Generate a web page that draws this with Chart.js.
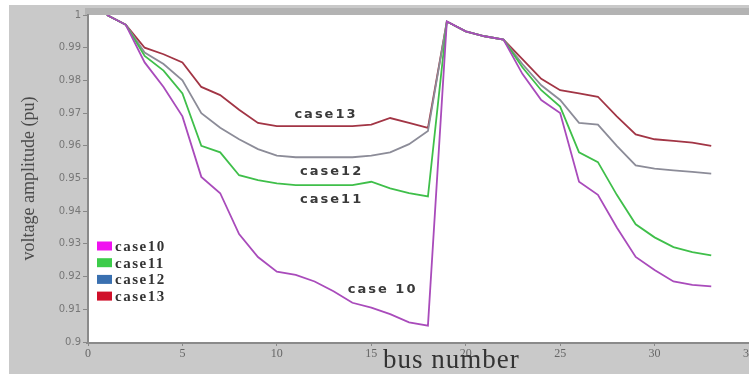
<!DOCTYPE html>
<html>
<head>
<meta charset="utf-8">
<script src="https://cdn.jsdelivr.net/npm/chart.js@4.4.1/dist/chart.umd.min.js"></script>
<style>
  html, body { margin: 0; padding: 0; background: #fff; }
  #wrap { width: 749px; height: 374px; position: relative; }
</style>
</head>
<body>
<div id="wrap"><canvas id="voltChart"></canvas></div>
<script>
'use strict';

// ─── DATA ────────────────────────────────────────────────────

const BUS = [1, 2, 3, 4, 5, 6, 7, 8, 9, 10, 11, 12, 13, 14, 15, 16, 17,
             18, 19, 20, 21, 22, 23, 24, 25, 26, 27, 28, 29, 30, 31, 32, 33];

const CASE10 = [1.000, 0.997, 0.9855, 0.978, 0.969, 0.9505, 0.9455, 0.933, 0.926, 0.9215, 0.9205,
                0.9185, 0.9155, 0.912, 0.9105, 0.9085, 0.906, 0.905, 0.998, 0.995, 0.9935, 0.9925,
                0.982, 0.974, 0.970, 0.949, 0.945, 0.935, 0.926, 0.922, 0.9185, 0.9175, 0.917];

const CASE11 = [1.000, 0.997, 0.9875, 0.983, 0.976, 0.9600, 0.958, 0.951, 0.9495, 0.9485, 0.948,
                0.948, 0.948, 0.948, 0.949, 0.947, 0.9455, 0.9445, 0.998, 0.995, 0.9935, 0.9925,
                0.984, 0.977, 0.972, 0.958, 0.955, 0.945, 0.936, 0.932, 0.929, 0.9275, 0.9265];

const CASE12 = [1.000, 0.997, 0.9885, 0.985, 0.980, 0.970, 0.9655, 0.962, 0.959, 0.957, 0.9565,
                0.9565, 0.9565, 0.9565, 0.957, 0.958, 0.9605, 0.9645, 0.998, 0.995, 0.9935, 0.9925,
                0.985, 0.9785, 0.974, 0.967, 0.9665, 0.960, 0.954, 0.953, 0.9525, 0.952, 0.9515];

const CASE13 = [1.000, 0.997, 0.990, 0.988, 0.9855, 0.978, 0.9755, 0.971, 0.967, 0.966, 0.966,
                0.966, 0.966, 0.966, 0.9665, 0.9685, 0.967, 0.9655, 0.998, 0.995, 0.9935, 0.9925,
                0.9865, 0.9805, 0.977, 0.976, 0.975, 0.969, 0.9635, 0.962, 0.9615, 0.961, 0.960];

const SERIES_NAMES  = ['case10', 'case11', 'case12', 'case13'];
const LINE_COLORS   = ['#a94bbb', '#3fbf4a', '#8c8c98', '#a23545'];
const LEGEND_COLORS = ['#f010f0', '#3ccc4a', '#3a70b0', '#d0102a'];

// in-plot labels: [text, bus, voltage]
const CURVE_LABELS = [
  ['case13', 12.6, 0.9695],
  ['case12', 12.9, 0.952],
  ['case11', 12.9, 0.9435],
  ['case 10', 15.6, 0.916],
];

// ─── HELPERS ─────────────────────────────────────────────────

function pairs(values) {
  return values.map((v, i) => ({ x: BUS[i], y: v }));
}

const frame = {
  id: 'frame',
  beforeDraw(chart) {
    const { ctx, chartArea: a, width, height } = chart;
    ctx.save();
    ctx.fillStyle = '#ffffff';
    ctx.fillRect(0, 0, width, height);
    ctx.fillStyle = '#c9c9c9';
    ctx.fillRect(9, 5, width - 9, height - 5);
    ctx.fillStyle = '#b3b3b3';
    ctx.fillRect(a.left - 3, 8, width - a.left + 3, a.top - 8);
    ctx.fillStyle = '#ffffff';
    ctx.fillRect(a.left, a.top, a.right - a.left, a.bottom - a.top);
    ctx.restore();
  },
  afterDraw(chart) {
    const { ctx, chartArea: a, scales } = chart;
    ctx.save();
    // bottom axis line
    ctx.strokeStyle = '#8a8a8a';
    ctx.lineWidth = 2;
    ctx.beginPath();
    ctx.moveTo(a.left - 2, a.bottom + 1);
    ctx.lineTo(a.right, a.bottom + 1);
    ctx.stroke();

    // curve labels
    ctx.fillStyle = '#3a3a3a';
    ctx.font = 'bold 13px "DejaVu Sans", sans-serif';
    ctx.letterSpacing = '2px';
    ctx.textAlign = 'center';
    ctx.textBaseline = 'middle';
    CURVE_LABELS.forEach(([txt, bx, v]) => {
      ctx.fillText(txt, scales.x.getPixelForValue(bx), scales.y.getPixelForValue(v));
    });

    // legend box
    ctx.font = 'bold 15px "Liberation Serif", serif';
    ctx.letterSpacing = '1.5px';
    ctx.textAlign = 'left';
    SERIES_NAMES.forEach((name, i) => {
      const cy = 246 + i * 16.7;
      ctx.fillStyle = LEGEND_COLORS[i];
      ctx.fillRect(a.left + 9, cy - 4.5, 15, 9);
      ctx.fillStyle = '#333';
      ctx.fillText(name, a.left + 27, cy + 1);
    });

    // x title
    ctx.font = '27px "Liberation Serif", serif';
    ctx.letterSpacing = '1px';
    ctx.fillStyle = '#333';
    ctx.textAlign = 'left';
    ctx.textBaseline = 'alphabetic';
    ctx.fillText('bus number', 383, 368);
    ctx.restore();
  }
};

// ─── CHART ───────────────────────────────────────────────────

const datasets = [CASE10, CASE11, CASE12, CASE13].map((vals, i) => ({
  label: SERIES_NAMES[i],
  data: pairs(vals),
  borderColor: LINE_COLORS[i],
  backgroundColor: LINE_COLORS[i],
  borderWidth: 1.8,
  pointRadius: 0,
  tension: 0,
  fill: false
}));

new Chart(document.getElementById('voltChart'), {
  type: 'line',
  data: { datasets },
  options: {
    responsive: true,
    maintainAspectRatio: false,
    animation: false,
    layout: { padding: { top: 15, left: 0, right: -4, bottom: 0 } },
    plugins: {
      legend: { display: false },
      tooltip: { enabled: false }
    },
    scales: {
      x: {
        type: 'linear',
        min: 0,
        max: 35,
        afterFit: s => { s.height = 32; s.paddingLeft = 0; s.paddingRight = 0; },
        grid: { drawOnChartArea: false, tickLength: 4, color: '#888' },
        border: { display: false },
        ticks: {
          stepSize: 5,
          padding: 1,
          maxRotation: 0,
          color: '#666',
          font: { family: '"Liberation Serif", serif', size: 12 }
        }
      },
      y: {
        min: 0.9,
        max: 1.0,
        afterFit: s => { s.width = 88; s.paddingTop = 0; s.paddingBottom = 0; },
        grid: { drawOnChartArea: false, tickLength: 5, color: '#888' },
        border: { display: true, color: '#8a8a8a', width: 2 },
        ticks: {
          stepSize: 0.01,
          padding: 2,
          color: '#777',
          font: { family: '"DejaVu Sans", sans-serif', size: 10 },
          callback: v => String(+v.toFixed(2))
        },
        title: {
          display: true,
          text: 'voltage amplitude (pu)',
          color: '#4a4a4a',
          padding: { top: 18, bottom: 0 },
          font: { family: '"Liberation Serif", serif', size: 18 }
        }
      }
    }
  },
  plugins: [frame]
});
</script>
</body>
</html>
